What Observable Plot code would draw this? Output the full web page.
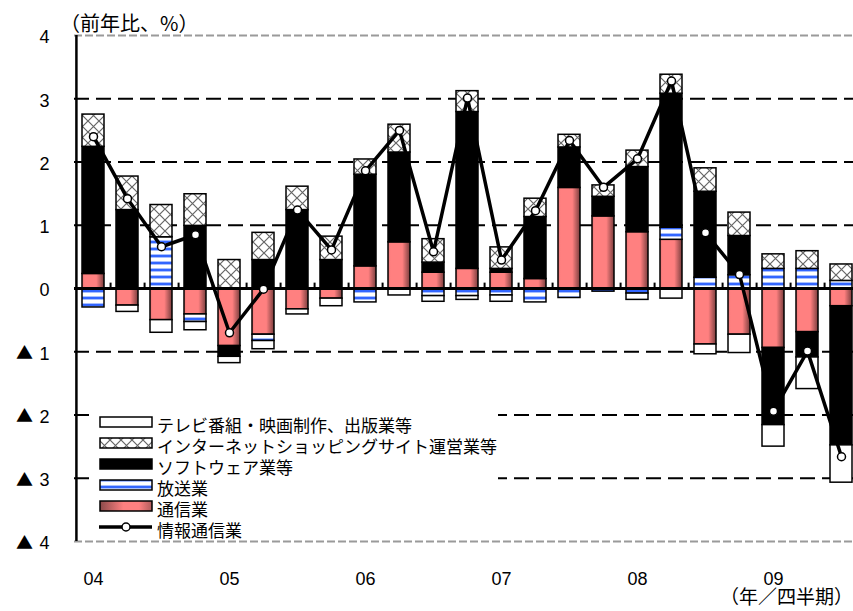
<!DOCTYPE html>
<html>
<head>
<meta charset="utf-8">
<script src="https://cdn.jsdelivr.net/npm/d3@7"></script>
<script src="https://cdn.jsdelivr.net/npm/@observablehq/plot@0.6"></script>
<style>
  html, body { margin: 0; padding: 0; background: white; overflow: hidden; }
  #chart svg { display: block; }
</style>
</head>
<body>
<svg width="0" height="0" style="position:absolute">
  <defs>
    <linearGradient id="pinkGrad" x1="0" y1="0" x2="1" y2="0">
      <stop offset="0%" stop-color="#e87474"/>
      <stop offset="12%" stop-color="#ff8080"/>
      <stop offset="65%" stop-color="#ff8080"/>
      <stop offset="100%" stop-color="#7a3e3e"/>
    </linearGradient>
    <linearGradient id="pinkGradLegend" x1="0" y1="0" x2="1" y2="0">
      <stop offset="0%" stop-color="#8a4a4a"/>
      <stop offset="45%" stop-color="#ff8080"/>
      <stop offset="75%" stop-color="#ff8080"/>
      <stop offset="100%" stop-color="#b05c5c"/>
    </linearGradient>
    <pattern id="blueStripe" patternUnits="userSpaceOnUse" width="10" height="7">
      <rect x="0" y="0" width="10" height="7" fill="#ffffff"/>
      <rect x="0" y="2" width="10" height="1" fill="#a8bfff"/>
      <rect x="0" y="3" width="10" height="2" fill="#3366ff"/>
      <rect x="0" y="5" width="10" height="1" fill="#a8bfff"/>
    </pattern>
    <pattern id="crossHatch" patternUnits="userSpaceOnUse" width="11" height="11">
      <rect x="0" y="0" width="11" height="11" fill="#ffffff"/>
      <path d="M0,0 L11,11 M11,0 L0,11" stroke="#666" stroke-width="1.2" fill="none"/>
    </pattern>
  </defs>
</svg>
<div id="chart"></div>
<script>
// ---- Data ----
const quarters = ["04Q1","04Q2","04Q3","04Q4","05Q1","05Q2","05Q3","05Q4",
                  "06Q1","06Q2","06Q3","06Q4","07Q1","07Q2","07Q3","07Q4",
                  "08Q1","08Q2","08Q3","08Q4","09Q1","09Q2","09Q3"];

const seriesNames = ["通信業", "放送業", "ソフトウェア業等", "インターネットショッピングサイト運営業等", "テレビ番組・映画制作、出版業等"];

const tsushin  = [0.23,-0.27,-0.50,-0.41,-0.91,-0.73,-0.33,-0.16,0.35,0.73,0.25,0.31,0.25,0.15,1.59,1.14,0.89,0.77,-0.885,-0.73,-0.94,-0.69,-0.28];
const hoso     = [-0.30,0,0.81,-0.12,0,-0.10,0,0,-0.22,0,-0.12,-0.12,-0.11,-0.22,-0.15,-0.05,-0.08,0.19,0.17,0.21,0.31,0.31,0.12];
const software = [2.01,1.24,0,0.99,-0.17,0.45,1.24,0.45,1.45,1.42,0.16,2.48,0.06,0.98,0.64,0.31,1.03,2.12,1.36,0.62,-1.22,-0.40,-2.20];
const internet = [0.51,0.53,0.51,0.50,0.45,0.43,0.37,0.37,0.24,0.44,0.37,0.33,0.34,0.29,0.20,0.18,0.26,0.30,0.37,0.37,0.23,0.28,0.26];
const tvEtc    = [0,-0.10,-0.20,-0.13,-0.10,-0.13,-0.08,-0.12,0,-0.11,-0.09,-0.06,-0.10,0,0,0,-0.10,-0.16,-0.155,-0.29,-0.34,-0.50,-0.59];
const total    = [2.40,1.42,0.66,0.85,-0.70,-0.01,1.24,0.61,1.86,2.50,0.58,3.01,0.45,1.23,2.34,1.60,2.05,3.28,0.88,0.22,-1.94,-0.99,-2.66];

const yTicks = [4,3,2,1,0,-1,-2,-3,-4];
const gridVals = [3,2,1,-1,-2,-3];
const lineName = "情報通信業";
const yTitle = "（前年比、%）";
const xTitle = "（年／四半期）";
const negMark = "▲";

// ---- Build tables ----
const seriesValues = [tsushin, hoso, software, internet, tvEtc];
const fills = ["url(#pinkGrad)", "url(#blueStripe)", "#000000", "url(#crossHatch)", "#ffffff"];
const rows = [];
quarters.forEach((q, i) => {
  seriesNames.forEach((s, k) => {
    const v = seriesValues[k][i];
    if (v !== 0) rows.push({q, s, v});
  });
});
const totals = quarters.map((q, i) => ({q, v: total[i]}));

const W = 853, H = 611;
const xRange = [74, 860];
const step = (xRange[1] - xRange[0]) / quarters.length;
const cjk = "'Noto Sans CJK JP', sans-serif";

const svg = Plot.plot({
  width: W, height: H,
  marginLeft: 74, marginRight: 0, marginTop: 35, marginBottom: 70,
  style: {fontFamily: "'Liberation Sans', Arial, sans-serif", fontSize: "18px", background: "white", color: "black"},
  x: {type: "band", domain: quarters, range: xRange, paddingInner: 0.34, paddingOuter: 0.17},
  y: {domain: [-4, 4]},
  color: {type: "ordinal", domain: seriesNames, range: fills},
  marks: [
    Plot.ruleY(gridVals, {stroke: "black", strokeWidth: 2, strokeDasharray: "15,7"}),
    Plot.ruleY([4, -4], {stroke: "#9a9a9a", strokeWidth: 2, strokeDasharray: "8,3"}),
    Plot.barY(rows, {x: "q", y: "v", z: "s", fill: "s", stroke: "black", strokeWidth: 1.5, clip: true}),
    Plot.ruleY([0], {stroke: "black", strokeWidth: 3}),
    Plot.ruleX(quarters, {x: d => d, y1: 0, y2: 0.085, dx: step / 2, stroke: "black", strokeWidth: 2}),
    Plot.ruleX([quarters[0]], {x: d => d, y1: -4, y2: 4, dx: -step / 2, stroke: "black", strokeWidth: 2.5}),
    Plot.line(totals, {x: "q", y: "v", stroke: "black", strokeWidth: 3.5, clip: true}),
    Plot.dot(totals, {x: "q", y: "v", r: 4, fill: "white", stroke: "black", strokeWidth: 1.5, clip: true}),
    Plot.axisY({ticks: yTicks, tickSize: 0, tickPadding: 25, dy: 2, fontSize: 18,
                tickFormat: d => String(Math.abs(d)), label: null}),
    Plot.text(yTicks.filter(d => d < 0), {y: d => d, text: () => negMark, frameAnchor: "left",
                textAnchor: "middle", dx: -50, dy: 2, fontSize: 17, fontFamily: cjk, fill: "black"}),
    Plot.axisX({tickSize: 0, tickPadding: 31, fontSize: 18,
                tickFormat: q => q.endsWith("Q1") ? q.slice(0, 2) : "", label: null})
  ]
});

document.getElementById("chart").appendChild(svg);

// ---- Titles and legend ----
const S = d3.select(svg);
S.append("text").attr("x", 60).attr("y", 31).attr("text-anchor", "start").attr("font-family", cjk)
  .attr("font-size", 20).attr("fill", "black").text(yTitle);
S.append("text").attr("x", 853).attr("y", 604).attr("text-anchor", "end").attr("font-family", cjk)
  .attr("font-size", 19).attr("fill", "black").text(xTitle);

const L = S.append("g");
L.append("rect").attr("x", 92).attr("y", 404).attr("width", 406).attr("height", 134).attr("fill", "white");
const legendItems = [
  {name: seriesNames[4], fill: "#ffffff"},
  {name: seriesNames[3], fill: "url(#crossHatch)"},
  {name: seriesNames[2], fill: "#000000"},
  {name: seriesNames[1], fill: "url(#blueStripe)"},
  {name: seriesNames[0], fill: "url(#pinkGradLegend)"},
  {name: lineName, line: true}
];
legendItems.forEach((it, i) => {
  const cy = 422 + 21 * i;
  if (it.line) {
    L.append("line").attr("x1", 99).attr("x2", 152).attr("y1", cy).attr("y2", cy)
      .attr("stroke", "black").attr("stroke-width", 3.5);
    L.append("circle").attr("cx", 126).attr("cy", cy).attr("r", 4)
      .attr("fill", "white").attr("stroke", "black").attr("stroke-width", 1.5);
  } else {
    L.append("rect").attr("x", 100).attr("y", cy - 5).attr("width", 52).attr("height", 10)
      .attr("fill", it.fill).attr("stroke", "black").attr("stroke-width", 1.5);
  }
  L.append("text").attr("x", 157).attr("y", cy + 2).attr("text-anchor", "start")
    .attr("dominant-baseline", "central")
    .attr("font-family", cjk).attr("font-size", 17).attr("fill", "black").text(it.name);
});
</script>
</body>
</html>
